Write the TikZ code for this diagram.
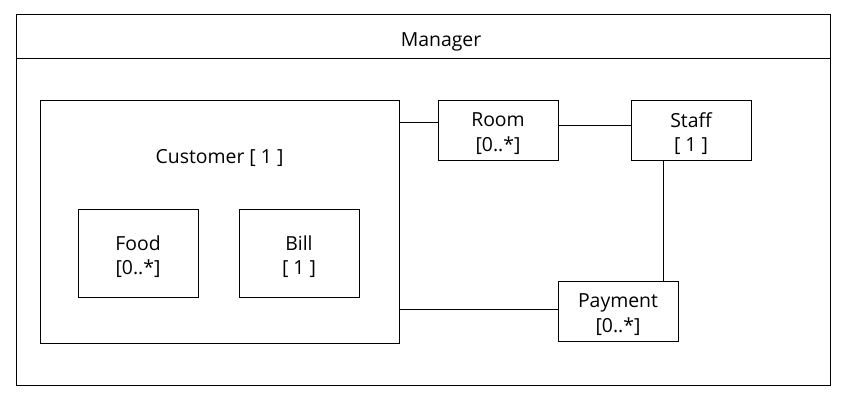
\documentclass[tikz,border=0pt]{standalone}
\usepackage{fontspec}
\setmainfont{Open Sans}
\begin{document}
\begin{tikzpicture}[x=1pt,y=-1pt,
  line width=1pt,
  txt/.style={font=\fontsize{19.4}{24.5}\selectfont, align=center, inner sep=0pt},
  cls/.style={draw, inner sep=0pt, minimum width=120pt, minimum height=60pt},
  part/.style={draw, inner sep=0pt, minimum width=120pt, minimum height=88pt},
  boxtext/.style={label={[txt,yshift=-3.5pt]center:{#1}}}]
\useasboundingbox (0,0) rectangle (846,408);
\fill[white] (0,0) rectangle (846,408);
% outer Manager frame
\node[draw, minimum width=814pt, minimum height=371pt, inner sep=0pt] (mgr) at (423,199.5) {};
\node[txt] (mgrlabel) at (441,41.5) {Manager};
\draw (mgr.west |- 0,58) -- (mgr.east |- 0,58);
% Customer
\node[draw, minimum width=359pt, minimum height=243pt, inner sep=0pt] (cust) at (219.5,221.5) {};
\node[txt] (custlabel) at (219.5,158) {Customer [ 1 ]};
\node[part, boxtext={Food\\{[0..*]}}] (food) at (138,253) {};
\node[part, boxtext={Bill\\{[ 1 ]}}] (bill) at (299,253) {};
% others
\node[cls, boxtext={Room\\{[0..*]}}] (room) at (498,130) {};
\node[cls, boxtext={Staff\\{[ 1 ]}}] (staff) at (691,130) {};
\node[cls, boxtext={Payment\\{[0..*]}}] (pay) at (618,311) {};
% connectors
\draw (cust.east |- 0,122) -- (room.west |- 0,122);
\draw (room.east |- 0,125) -- (staff.west |- 0,125);
\draw (staff.south -| 663,0) -- (pay.north -| 663,0);
\draw (cust.east |- 0,309) -- (pay.west |- 0,309);
\end{tikzpicture}
\end{document}
